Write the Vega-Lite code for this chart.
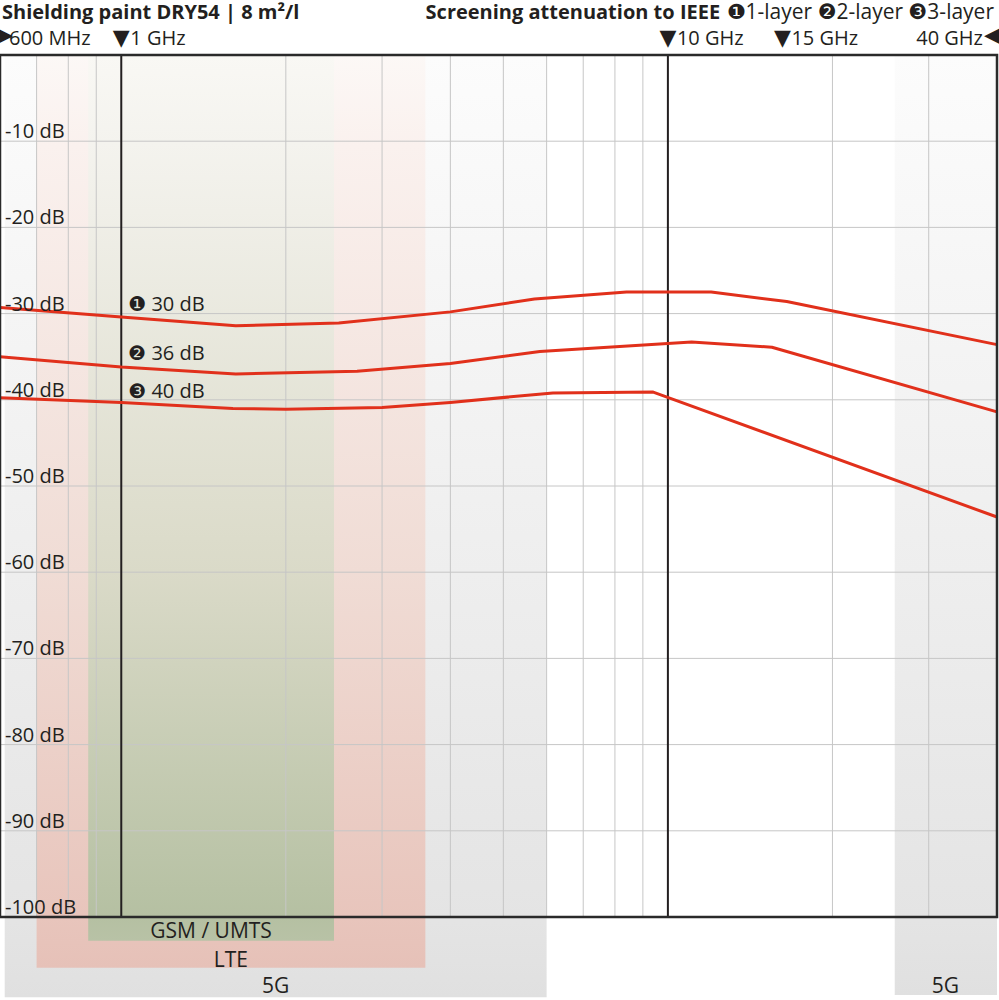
{
  "$schema": "https://vega.github.io/schema/vega-lite/v6.json",
  "width": 997,
  "height": 862,
  "autosize": {"type": "none"},
  "padding": {"left": 0, "top": 55, "right": 2, "bottom": 83},
  "background": "white",
  "config": {"view": {"stroke": null}, "font": "Open Sans, DejaVu Sans"},
  "datasets": {
    "bands": [
      {"id": "5G", "f1": 0.612, "f2": 6, "top": 0, "bottom": -109.3},
      {"id": "LTE", "f1": 0.7, "f2": 3.6, "top": 0, "bottom": -105.9},
      {"id": "GSM / UMTS", "f1": 0.87, "f2": 2.45, "top": 0, "bottom": -102.75},
      {"id": "5G FR2", "f1": 26, "f2": 40, "top": 0, "bottom": -109.05}
    ],
    "gridx": [{"f": 0.7}, {"f": 0.8}, {"f": 0.9}, {"f": 2}, {"f": 3}, {"f": 4}, {"f": 5}, {"f": 6}, {"f": 7}, {"f": 8}, {"f": 9}, {"f": 20}, {"f": 30}],
    "gridy": [{"db": -10}, {"db": -20}, {"db": -30}, {"db": -40}, {"db": -50}, {"db": -60}, {"db": -70}, {"db": -80}, {"db": -90}],
    "ylabels": [
      {"f": 0.6, "db": -10, "text": "-10 dB"},
      {"f": 0.6, "db": -20, "text": "-20 dB"},
      {"f": 0.6, "db": -30, "text": "-30 dB"},
      {"f": 0.6, "db": -40, "text": "-40 dB"},
      {"f": 0.6, "db": -50, "text": "-50 dB"},
      {"f": 0.6, "db": -60, "text": "-60 dB"},
      {"f": 0.6, "db": -70, "text": "-70 dB"},
      {"f": 0.6, "db": -80, "text": "-80 dB"},
      {"f": 0.6, "db": -90, "text": "-90 dB"},
      {"f": 0.6, "db": -100, "text": "-100 dB"}
    ],
    "markers": [{"f": 1}, {"f": 10}],
    "curves": [
      {"series": "1-layer", "f": 0.6, "db": -29.3},
      {"series": "1-layer", "f": 1.0, "db": -30.4},
      {"series": "1-layer", "f": 1.62, "db": -31.4},
      {"series": "1-layer", "f": 2.5, "db": -31.1},
      {"series": "1-layer", "f": 4.0, "db": -29.8},
      {"series": "1-layer", "f": 5.7, "db": -28.3},
      {"series": "1-layer", "f": 8.4, "db": -27.5},
      {"series": "1-layer", "f": 12, "db": -27.5},
      {"series": "1-layer", "f": 16.5, "db": -28.6},
      {"series": "1-layer", "f": 40, "db": -33.6},
      {"series": "2-layer", "f": 0.6, "db": -35.0},
      {"series": "2-layer", "f": 1.0, "db": -36.2},
      {"series": "2-layer", "f": 1.62, "db": -37.0},
      {"series": "2-layer", "f": 2.7, "db": -36.7},
      {"series": "2-layer", "f": 4.0, "db": -35.8},
      {"series": "2-layer", "f": 5.83, "db": -34.4},
      {"series": "2-layer", "f": 11.05, "db": -33.3},
      {"series": "2-layer", "f": 15.5, "db": -33.9},
      {"series": "2-layer", "f": 40, "db": -41.4},
      {"series": "3-layer", "f": 0.6, "db": -39.75},
      {"series": "3-layer", "f": 1.0, "db": -40.3},
      {"series": "3-layer", "f": 1.6, "db": -41.0},
      {"series": "3-layer", "f": 2.0, "db": -41.1},
      {"series": "3-layer", "f": 3.0, "db": -40.9},
      {"series": "3-layer", "f": 4.0, "db": -40.3},
      {"series": "3-layer", "f": 6.16, "db": -39.2},
      {"series": "3-layer", "f": 9.4, "db": -39.1},
      {"series": "3-layer", "f": 40, "db": -53.6}
    ],
    "frame": [{"f1": 0.6, "f2": 40, "top": 0, "bottom": -100}],
    "notes": [
      {"f": 1, "db": -29.7, "text": "❶ 30 dB"},
      {"f": 1, "db": -35.38, "text": "❷ 36 dB"},
      {"f": 1, "db": -39.76, "text": "❸ 40 dB"}
    ],
    "bandLabels": [
      {"f": 1.46, "db": -102.47, "text": "GSM / UMTS"},
      {"f": 1.587, "db": -105.77, "text": "LTE"},
      {"f": 1.916, "db": -108.8, "text": "5G"},
      {"f": 32.2, "db": -108.8, "text": "5G"}
    ],
    "triangles": [
      {"f": 1, "db": 1.16, "text": "▼"},
      {"f": 10, "db": 1.16, "text": "▼"},
      {"f": 16.2, "db": 1.16, "text": "▼"}
    ],
    "edgeTriangles": [
      {"f": 0.6, "db": 1.16, "text": "▶"},
      {"f": 40, "db": 1.16, "text": "◀"}
    ],
    "freqLeft": [
      {"f": 0.6, "db": 1.16, "text": "600 MHz"},
      {"f": 1, "db": 1.16, "text": "1 GHz"},
      {"f": 10, "db": 1.16, "text": "10 GHz"},
      {"f": 16.2, "db": 1.16, "text": "15 GHz"}
    ],
    "freqRight": [{"f": 40, "db": 1.16, "text": "40 GHz"}],
    "titleLeft": [{"f": 0.6, "db": 4.23, "text": "Shielding paint DRY54 | 8 m²/l"}],
    "titleMid": [{"f": 12.46, "db": 4.23, "text": "Screening attenuation to IEEE"}],
    "titleRight": [{"f": 40, "db": 4.23, "text": "❶1-layer ❷2-layer ❸3-layer"}]
  },
  "layer": [
    {
      "data": {"name": "bands"},
      "transform": [{"filter": "datum.id === '5G' || datum.id === '5G FR2'"}],
      "mark": {"type": "rect", "stroke": null, "fill": {"gradient": "linear", "x1": 0, "y1": 0, "x2": 0, "y2": 1, "stops": [{"offset": 0, "color": "#fcfcfc"}, {"offset": 0.55, "color": "#eeeeee"}, {"offset": 0.92, "color": "#e4e4e4"}, {"offset": 1, "color": "#e0e0e0"}]}},
      "encoding": {
        "x": {"field": "f1", "type": "quantitative", "scale": {"type": "log", "domain": [0.6, 40], "nice": false}, "axis": null},
        "x2": {"field": "f2"},
        "y": {"field": "top", "type": "quantitative", "scale": {"domain": [-100, 0], "nice": false, "zero": false}, "axis": null},
        "y2": {"field": "bottom"}
      }
    },
    {
      "data": {"name": "bands"},
      "transform": [{"filter": "datum.id === 'LTE'"}],
      "mark": {"type": "rect", "stroke": null, "fill": {"gradient": "linear", "x1": 0, "y1": 0, "x2": 0, "y2": 1, "stops": [{"offset": 0, "color": "#fcf8f6"}, {"offset": 0.1, "color": "#faf1ee"}, {"offset": 0.566, "color": "#f0dcd5"}, {"offset": 0.944, "color": "#e8c5bc"}, {"offset": 1, "color": "#e6c1b8"}]}},
      "encoding": {
        "x": {"field": "f1", "type": "quantitative", "scale": {"type": "log", "domain": [0.6, 40], "nice": false}, "axis": null},
        "x2": {"field": "f2"},
        "y": {"field": "top", "type": "quantitative", "scale": {"domain": [-100, 0], "nice": false, "zero": false}, "axis": null},
        "y2": {"field": "bottom"}
      }
    },
    {
      "data": {"name": "bands"},
      "transform": [{"filter": "datum.id === 'GSM / UMTS'"}],
      "mark": {"type": "rect", "stroke": null, "fill": {"gradient": "linear", "x1": 0, "y1": 0, "x2": 0, "y2": 1, "stops": [{"offset": 0, "color": "#f9f8f4"}, {"offset": 0.1, "color": "#f4f3ee"}, {"offset": 0.584, "color": "#dadac8"}, {"offset": 0.973, "color": "#b5c0a2"}, {"offset": 1, "color": "#b8c2a6"}]}},
      "encoding": {
        "x": {"field": "f1", "type": "quantitative", "scale": {"type": "log", "domain": [0.6, 40], "nice": false}, "axis": null},
        "x2": {"field": "f2"},
        "y": {"field": "top", "type": "quantitative", "scale": {"domain": [-100, 0], "nice": false, "zero": false}, "axis": null},
        "y2": {"field": "bottom"}
      }
    },
    {
      "data": {"name": "gridx"},
      "mark": {"type": "rule", "color": "#c6c6c6", "strokeWidth": 1},
      "encoding": {
        "x": {"field": "f", "type": "quantitative", "scale": {"type": "log", "domain": [0.6, 40], "nice": false}, "axis": null}
      }
    },
    {
      "data": {"name": "gridy"},
      "mark": {"type": "rule", "color": "#c6c6c6", "strokeWidth": 1},
      "encoding": {
        "y": {"field": "db", "type": "quantitative", "scale": {"domain": [-100, 0], "nice": false, "zero": false}, "axis": null}
      }
    },
    {
      "data": {"name": "markers"},
      "mark": {"type": "rule", "color": "#231f20", "strokeWidth": 2},
      "encoding": {
        "x": {"field": "f", "type": "quantitative", "scale": {"type": "log", "domain": [0.6, 40], "nice": false}, "axis": null}
      }
    },
    {
      "data": {"name": "curves"},
      "mark": {"type": "line", "color": "#e1301b", "strokeWidth": 3, "strokeJoin": "round"},
      "encoding": {
        "x": {"field": "f", "type": "quantitative", "scale": {"type": "log", "domain": [0.6, 40], "nice": false}, "axis": null},
        "y": {"field": "db", "type": "quantitative", "scale": {"domain": [-100, 0], "nice": false, "zero": false}, "axis": null},
        "detail": {"field": "series", "type": "nominal"}
      }
    },
    {
      "data": {"name": "frame"},
      "mark": {"type": "rect", "fill": null, "stroke": "#2a2a2a", "strokeWidth": 2.5},
      "encoding": {
        "x": {"field": "f1", "type": "quantitative", "scale": {"type": "log", "domain": [0.6, 40], "nice": false}, "axis": null},
        "x2": {"field": "f2"},
        "y": {"field": "top", "type": "quantitative", "scale": {"domain": [-100, 0], "nice": false, "zero": false}, "axis": null},
        "y2": {"field": "bottom"}
      }
    },
    {
      "data": {"name": "ylabels"},
      "mark": {"type": "text", "align": "left", "baseline": "alphabetic", "dx": 5, "dy": -3, "fontSize": 20, "font": "Open Sans", "color": "#231f20"},
      "encoding": {
        "x": {"field": "f", "type": "quantitative", "scale": {"type": "log", "domain": [0.6, 40], "nice": false}, "axis": null},
        "y": {"field": "db", "type": "quantitative", "scale": {"domain": [-100, 0], "nice": false, "zero": false}, "axis": null},
        "text": {"field": "text"}
      }
    },
    {
      "data": {"name": "notes"},
      "mark": {"type": "text", "align": "left", "baseline": "alphabetic", "dx": 7, "fontSize": 20, "font": "Open Sans, DejaVu Sans", "color": "#231f20"},
      "encoding": {
        "x": {"field": "f", "type": "quantitative", "scale": {"type": "log", "domain": [0.6, 40], "nice": false}, "axis": null},
        "y": {"field": "db", "type": "quantitative", "scale": {"domain": [-100, 0], "nice": false, "zero": false}, "axis": null},
        "text": {"field": "text"}
      }
    },
    {
      "data": {"name": "bandLabels"},
      "mark": {"type": "text", "align": "center", "baseline": "alphabetic", "fontSize": 21, "font": "Open Sans", "color": "#231f20"},
      "encoding": {
        "x": {"field": "f", "type": "quantitative", "scale": {"type": "log", "domain": [0.6, 40], "nice": false}, "axis": null},
        "y": {"field": "db", "type": "quantitative", "scale": {"domain": [-100, 0], "nice": false, "zero": false}, "axis": null},
        "text": {"field": "text"}
      }
    },
    {
      "data": {"name": "triangles"},
      "mark": {"type": "text", "align": "center", "baseline": "alphabetic", "fontSize": 22, "font": "DejaVu Sans", "color": "#231f20"},
      "encoding": {
        "x": {"field": "f", "type": "quantitative", "scale": {"type": "log", "domain": [0.6, 40], "nice": false}, "axis": null},
        "y": {"field": "db", "type": "quantitative", "scale": {"domain": [-100, 0], "nice": false, "zero": false}, "axis": null},
        "text": {"field": "text"}
      }
    },
    {
      "data": {"name": "edgeTriangles"},
      "mark": {"type": "text", "align": "center", "baseline": "alphabetic", "fontSize": 34, "font": "DejaVu Sans", "color": "#231f20"},
      "encoding": {
        "x": {"field": "f", "type": "quantitative", "scale": {"type": "log", "domain": [0.6, 40], "nice": false}, "axis": null},
        "y": {"field": "db", "type": "quantitative", "scale": {"domain": [-100, 0], "nice": false, "zero": false}, "axis": null},
        "text": {"field": "text"}
      }
    },
    {
      "data": {"name": "freqLeft"},
      "mark": {"type": "text", "align": "left", "baseline": "alphabetic", "dx": 9, "fontSize": 20, "font": "Open Sans", "color": "#231f20"},
      "encoding": {
        "x": {"field": "f", "type": "quantitative", "scale": {"type": "log", "domain": [0.6, 40], "nice": false}, "axis": null},
        "y": {"field": "db", "type": "quantitative", "scale": {"domain": [-100, 0], "nice": false, "zero": false}, "axis": null},
        "text": {"field": "text"}
      }
    },
    {
      "data": {"name": "freqRight"},
      "mark": {"type": "text", "align": "right", "baseline": "alphabetic", "dx": -14, "fontSize": 20, "font": "Open Sans", "color": "#231f20"},
      "encoding": {
        "x": {"field": "f", "type": "quantitative", "scale": {"type": "log", "domain": [0.6, 40], "nice": false}, "axis": null},
        "y": {"field": "db", "type": "quantitative", "scale": {"domain": [-100, 0], "nice": false, "zero": false}, "axis": null},
        "text": {"field": "text"}
      }
    },
    {
      "data": {"name": "titleLeft"},
      "mark": {"type": "text", "align": "left", "baseline": "alphabetic", "dx": 2, "fontSize": 20, "fontWeight": "bold", "font": "Open Sans", "color": "#231f20"},
      "encoding": {
        "x": {"field": "f", "type": "quantitative", "scale": {"type": "log", "domain": [0.6, 40], "nice": false}, "axis": null},
        "y": {"field": "db", "type": "quantitative", "scale": {"domain": [-100, 0], "nice": false, "zero": false}, "axis": null},
        "text": {"field": "text"}
      }
    },
    {
      "data": {"name": "titleMid"},
      "mark": {"type": "text", "align": "right", "baseline": "alphabetic", "fontSize": 20, "fontWeight": "bold", "font": "Open Sans", "color": "#231f20"},
      "encoding": {
        "x": {"field": "f", "type": "quantitative", "scale": {"type": "log", "domain": [0.6, 40], "nice": false}, "axis": null},
        "y": {"field": "db", "type": "quantitative", "scale": {"domain": [-100, 0], "nice": false, "zero": false}, "axis": null},
        "text": {"field": "text"}
      }
    },
    {
      "data": {"name": "titleRight"},
      "mark": {"type": "text", "align": "right", "baseline": "alphabetic", "dx": -3, "fontSize": 21, "font": "Open Sans, DejaVu Sans", "color": "#231f20"},
      "encoding": {
        "x": {"field": "f", "type": "quantitative", "scale": {"type": "log", "domain": [0.6, 40], "nice": false}, "axis": null},
        "y": {"field": "db", "type": "quantitative", "scale": {"domain": [-100, 0], "nice": false, "zero": false}, "axis": null},
        "text": {"field": "text"}
      }
    }
  ]
}
